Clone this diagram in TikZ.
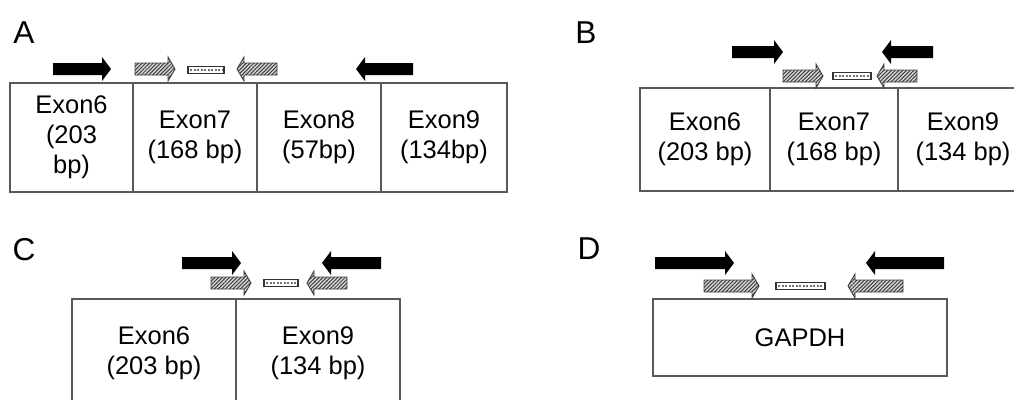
\documentclass[tikz,border=0pt]{standalone}
\usepackage{fontspec}
\setmainfont{Liberation Sans}
\usetikzlibrary{patterns.meta}

% primer arrow: [head length]{style}{tail x}{tip x}{y}
\newcommand{\primer}[5][9]{%
  \draw[#2] (#3,#5-6) -- ({#4-#1*sign(#4-#3)},#5-6) -- ({#4-#1*sign(#4-#3)},#5-12)
    -- (#4,#5) -- ({#4-#1*sign(#4-#3)},#5+12) -- ({#4-#1*sign(#4-#3)},#5+6)
    -- (#3,#5+6) -- cycle;}
% probe: {left x}{right x}{y}
\newcommand{\probe}[3]{%
  \draw[probebox] (#1,#3-3.5) rectangle (#2,#3+3.5);
  \draw[probedots] (#1+2,#3) -- (#2-2,#3);}

\begin{document}
\begin{tikzpicture}[
        x=0.02cm, y=-0.02cm,
        exonbox/.style={draw=black!65, line width=1.2pt},
        exontext/.style={align=center, inner sep=0pt, font=\fontsize{14.5}{17}\selectfont},
        panel/.style={inner sep=0pt, font=\fontsize{18}{20}\selectfont},
        blackprimer/.style={fill=black, draw=none},
        hatchprimer/.style={draw=black!75, line width=0.5pt, fill=gray!35,
            postaction={pattern={Lines[angle=45, distance=1.5pt, line width=0.5pt]}, pattern color=black!80}},
        probebox/.style={draw=black!80, line width=0.6pt, fill=white},
        probedots/.style={draw=black!55, line width=1.4pt, dash pattern=on 1.2pt off 0.8pt}
    ]
    \useasboundingbox (0,0) rectangle (1014,399);
    \clip (0,0) rectangle (1014,399);

    % Panel A
    \node[panel] (labA) at (24,33) {A};
    \draw[exonbox] (10,83) rectangle (133,192);
    \draw[exonbox] (133,83) rectangle (257,192);
    \draw[exonbox] (257,83) rectangle (381,192);
    \draw[exonbox] (381,83) rectangle (507,192);
    \node[exontext] (a6) at (71.5,137.5) {Exon6\\(203\\bp)};
    \node[exontext] (a7) at (195,137.5) {Exon7\\(168 bp)};
    \node[exontext] (a8) at (319,137.5) {Exon8\\(57bp)};
    \node[exontext] (a9) at (444,137.5) {Exon9\\(134bp)};
    \primer{blackprimer}{53}{111}{69}
    \primer[7]{hatchprimer}{135}{175}{69}
    \probe{188}{224}{70}
    \primer[7]{hatchprimer}{277}{237}{69}
    \primer{blackprimer}{413}{356}{69}

    % Panel B
    \node[panel] (labB) at (586,33) {B};
    \draw[exonbox] (640,88) rectangle (770,191);
    \draw[exonbox] (770,88) rectangle (898,191);
    \draw[exonbox] (898,88) rectangle (1028,191);
    \node[exontext] (b6) at (705,139.5) {Exon6\\(203 bp)};
    \node[exontext] (b7) at (834,139.5) {Exon7\\(168 bp)};
    \node[exontext] (b9) at (963,139.5) {Exon9\\(134 bp)};
    \primer{blackprimer}{732}{783}{52}
    \primer[7]{hatchprimer}{783}{823}{76}
    \probe{833}{871}{76}
    \primer[7]{hatchprimer}{917}{877}{76}
    \primer{blackprimer}{933}{882}{52}

    % Panel C
    \node[panel] (labC) at (24,250) {C};
    \draw[exonbox] (72,299) rectangle (236,410);
    \draw[exonbox] (236,299) rectangle (400,410);
    \node[exontext] (c6) at (154,353) {Exon6\\(203 bp)};
    \node[exontext] (c9) at (318,353) {Exon9\\(134 bp)};
    \primer{blackprimer}{182}{241}{263}
    \primer[7]{hatchprimer}{211}{251}{283}
    \probe{264}{298}{283}
    \primer[7]{hatchprimer}{347}{307}{283}
    \primer{blackprimer}{381}{322}{263}

    % Panel D
    \node[panel] (labD) at (589,249) {D};
    \draw[exonbox] (653,299) rectangle (947,376);
    \node[exontext] (gapdh) at (800,338) {GAPDH};
    \primer{blackprimer}{655}{734}{263}
    \primer[7]{hatchprimer}{704}{759}{286}
    \probe{776}{825}{286}
    \primer[7]{hatchprimer}{903}{848}{286}
    \primer{blackprimer}{944}{866}{263}
\end{tikzpicture}
\end{document}
